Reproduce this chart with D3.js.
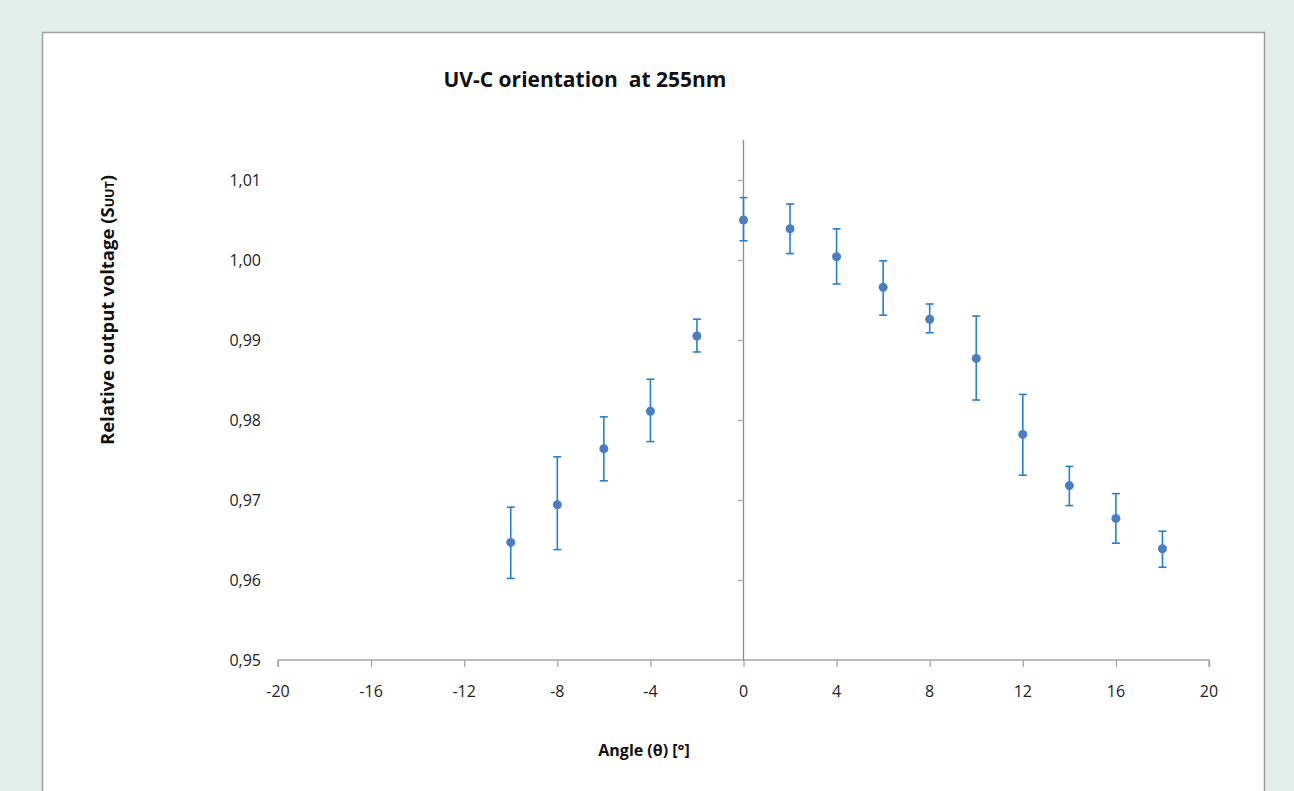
<!DOCTYPE html>
<html>
<head>
<meta charset="utf-8">
<script src="https://cdn.jsdelivr.net/npm/d3@7"></script>
<style>
  body { margin: 0; background: #e4eeea; }
  svg { display: block; }
  .tick-label { font-family: "Open Sans", Lato, sans-serif; font-size: 16px; fill: #222; }
</style>
</head>
<body>
<svg id="chart" width="1294" height="791"></svg>
<script>
const angles = [-10, -8, -6, -4, -2, 0, 2, 4, 6, 8, 10, 12, 14, 16, 18];
const voltage = [0.9647, 0.9694, 0.9764, 0.9811, 0.9905, 1.0050, 1.0039, 1.0004, 0.9966, 0.9926, 0.9877, 0.9782, 0.9718, 0.9677, 0.9639];
const errHigh = [0.9691, 0.9754, 0.9804, 0.9851, 0.9926, 1.0078, 1.0070, 1.0039, 0.9999, 0.9945, 0.9930, 0.9832, 0.9742, 0.9708, 0.9661];
const errLow = [0.9602, 0.9638, 0.9724, 0.9773, 0.9885, 1.0024, 1.0008, 0.9970, 0.9931, 0.9909, 0.9825, 0.9731, 0.9693, 0.9646, 0.9616];
const xTicks = [-20, -16, -12, -8, -4, 0, 4, 8, 12, 16, 20];
const yTicks = [0.95, 0.96, 0.97, 0.98, 0.99, 1.00, 1.01];

const svg = d3.select("#chart");

// white chart panel
svg.append("rect")
  .attr("x", 42.5).attr("y", 32.5)
  .attr("width", 1222).attr("height", 800)
  .attr("fill", "#fff")
  .attr("stroke", "#a0a0a0")
  .attr("stroke-width", 1.5);

const x = d3.scaleLinear().domain([-20, 20]).range([278, 1209]);
const y = d3.scaleLinear().domain([0.95, 1.01]).range([660, 180]);

// x axis along the bottom
const xAxis = svg.append("g").attr("transform", `translate(0,${y(0.95)})`)
  .call(d3.axisBottom(x).tickValues(xTicks).tickSize(7).tickFormat(""));
xAxis.select(".domain").attr("stroke", "#a6a6a6").attr("stroke-width", 1.3)
  .attr("d", `M${x(-20)},7V0H${x(20)}V7`);
xAxis.selectAll(".tick line").attr("stroke", "#a6a6a6").attr("stroke-width", 1.3);

svg.append("g").selectAll("text")
  .data(xTicks)
  .join("text")
  .attr("class", "tick-label")
  .attr("x", d => x(d))
  .attr("y", 697)
  .attr("text-anchor", "middle")
  .text(d => d);

// y axis through x = 0
const yAxis = svg.append("g").attr("transform", `translate(${x(0)},0)`)
  .call(d3.axisLeft(y).tickValues(yTicks.slice(1)).tickSize(6).tickFormat(""));
yAxis.select(".domain").attr("stroke", "#8c8c8c").attr("stroke-width", 1.3)
  .attr("d", `M0,${y(1.015)}V${y(0.95)}`);
yAxis.selectAll(".tick line").attr("stroke", "#b0b0b0").attr("stroke-width", 1.5);

// y labels sit on the low side of the plot
svg.append("g").selectAll("text")
  .data(yTicks)
  .join("text")
  .attr("class", "tick-label")
  .attr("x", 261)
  .attr("y", d => y(d) + 6)
  .attr("text-anchor", "end")
  .text(d => d3.format(".2f")(d).replace(".", ","));

// error bars
const bars = svg.append("g").attr("stroke", "#2a7fcc").attr("stroke-width", 1.6);
angles.forEach((a, i) => {
  const cx = x(a);
  bars.append("line").attr("x1", cx).attr("x2", cx).attr("y1", y(errHigh[i])).attr("y2", y(errLow[i]));
  bars.append("line").attr("x1", cx - 4).attr("x2", cx + 4).attr("y1", y(errHigh[i])).attr("y2", y(errHigh[i]));
  bars.append("line").attr("x1", cx - 4).attr("x2", cx + 4).attr("y1", y(errLow[i])).attr("y2", y(errLow[i]));
});

// points
svg.append("g").selectAll("circle")
  .data(angles)
  .join("circle")
  .attr("cx", d => x(d))
  .attr("cy", (d, i) => y(voltage[i]))
  .attr("r", 4.5)
  .attr("fill", "#4a7ebf");

// title and axis titles
svg.append("text")
  .attr("x", 585).attr("y", 87)
  .attr("text-anchor", "middle")
  .attr("font-family", "'Open Sans', Lato, sans-serif")
  .attr("font-weight", "bold")
  .attr("font-size", 21)
  .attr("fill", "#111")
  .attr("xml:space", "preserve")
  .text("UV-C orientation  at 255nm");

svg.append("text")
  .attr("x", 644).attr("y", 756)
  .attr("text-anchor", "middle")
  .attr("font-family", "'Open Sans', Lato, sans-serif")
  .attr("font-weight", "bold")
  .attr("font-size", 16)
  .attr("fill", "#111")
  .text("Angle (θ) [°]");

const yTitle = svg.append("text")
  .attr("transform", "translate(114,310) rotate(-90)")
  .attr("text-anchor", "middle")
  .attr("font-family", "'Open Sans', Lato, sans-serif")
  .attr("font-weight", "bold")
  .attr("font-size", 18.5)
  .attr("fill", "#111");
yTitle.append("tspan").text("Relative output voltage (S");
yTitle.append("tspan").attr("font-size", 12.5).text("UUT");
yTitle.append("tspan").text(")");
</script>
</body>
</html>
